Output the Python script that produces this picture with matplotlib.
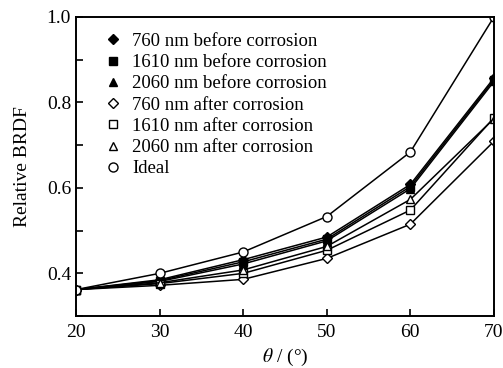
import numpy as np
import matplotlib
matplotlib.use("Agg")
import matplotlib.pyplot as plt
from matplotlib.ticker import MultipleLocator

plt.rcParams["font.family"] = ["Liberation Serif", "DejaVu Serif"]
plt.rcParams["mathtext.fontset"] = "stix"

theta = [20, 30, 40, 50, 60, 70]

b760 = [0.362, 0.385, 0.432, 0.485, 0.608, 0.857]
b1610 = [0.362, 0.383, 0.427, 0.480, 0.603, 0.853]
b2060 = [0.362, 0.381, 0.422, 0.476, 0.598, 0.849]
a760 = [0.362, 0.372, 0.386, 0.435, 0.515, 0.709]
a1610 = [0.362, 0.376, 0.400, 0.454, 0.548, 0.764]
a2060 = [0.362, 0.378, 0.408, 0.463, 0.573, 0.762]
ideal = [0.362, 0.400, 0.450, 0.533, 0.684, 1.000]

series = [
    ("760 nm before corrosion", b760, "D", "black", 5),
    ("1610 nm before corrosion", b1610, "s", "black", 5.5),
    ("2060 nm before corrosion", b2060, "^", "black", 6),
    ("760 nm after corrosion", a760, "D", "white", 5),
    ("1610 nm after corrosion", a1610, "s", "white", 5.5),
    ("2060 nm after corrosion", a2060, "^", "white", 6),
    ("Ideal", ideal, "o", "white", 6.5),
]

fig = plt.figure(figsize=(5.03, 3.68), dpi=100)
ax = fig.add_axes([0.151, 0.141, 0.831, 0.813])

for label, vals, mk, fc, ms in series:
    ax.plot(theta, vals, color="black", lw=1.1, marker=mk, ms=ms,
            mfc=fc, mec="black", mew=1.0, label=label)

ax.set_xlim(20, 70)
ax.set_ylim(0.3, 1.0)
ax.xaxis.set_major_locator(MultipleLocator(10))
ax.yaxis.set_minor_locator(MultipleLocator(0.1))
ax.set_yticks([0.4, 0.6, 0.8, 1.0])
ax.tick_params(which="both", direction="in", width=1.2, labelsize=14, length=5)
ax.tick_params(axis="x", pad=6)
for s in ax.spines.values():
    s.set_linewidth(1.4)

ax.set_xlabel(r"$\theta$ / (°)", fontsize=14)
ax.set_ylabel("Relative BRDF", fontsize=14, labelpad=11)

leg = ax.legend(loc="upper left", frameon=False, fontsize=13.5,
                bbox_to_anchor=(0.062, 0.947), handlelength=1.15,
                handletextpad=0.45, labelspacing=0.22, borderaxespad=0,
                borderpad=0)
for h in leg.legend_handles:
    h.set_linestyle("")

fig.savefig("out.png", dpi=100)
